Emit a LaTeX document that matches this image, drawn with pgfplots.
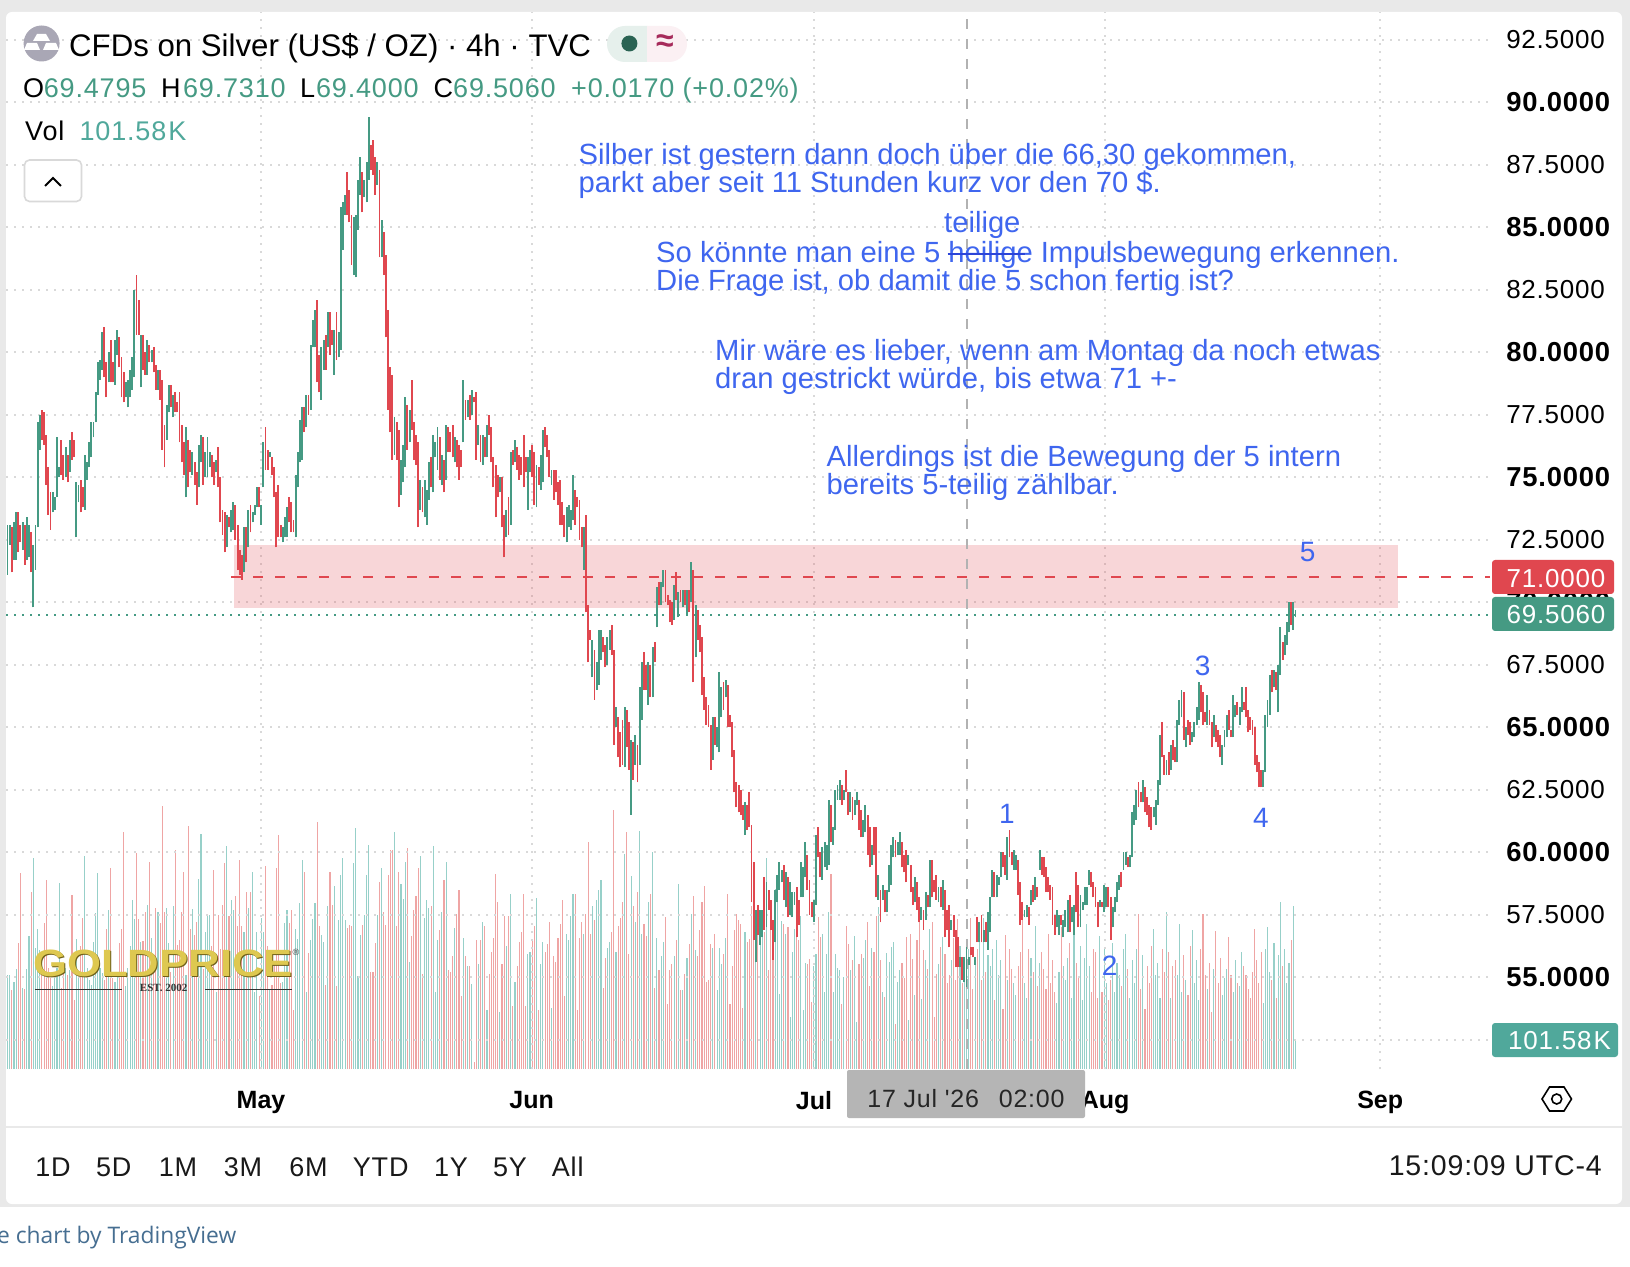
\documentclass[border=0pt]{standalone}
\usepackage{fontspec}
\usepackage{pgfplots}
\usepackage{pgfplotstable}
\pgfplotsset{compat=1.18}
\setmainfont{Liberation Sans}
\newfontfamily\ls[LetterSpace=3]{Liberation Sans}
\newfontfamily\osans{Open Sans}
\newfontfamily\lserif{Liberation Serif}
\newcommand{\fs}[1]{\fontsize{#1bp}{#1bp}\selectfont}
\definecolor{cg}{HTML}{459A83}
\definecolor{cr}{HTML}{E0474F}
\definecolor{vg}{HTML}{97D0C9}
\definecolor{vr}{HTML}{EFA5A4}
\definecolor{gridc}{HTML}{D9D9D9}
\definecolor{bluet}{HTML}{3F66EF}
\definecolor{vlab}{HTML}{50A89B}
\definecolor{frame}{HTML}{E9E9E9}
\definecolor{coin}{HTML}{A9A7B5}
\definecolor{pillg}{HTML}{E6F0EC}
\definecolor{pillr}{HTML}{FBF0F3}
\definecolor{dotg}{HTML}{2A6353}
\definecolor{maroon}{HTML}{A62B5B}
\definecolor{strike}{HTML}{2B44D8}
\definecolor{goldd}{HTML}{6E5F19}
\definecolor{goldl}{HTML}{DEC850}
\definecolor{tvblue}{HTML}{466E91}
\pgfplotstableread{
l h d v
71.1 73.1 1 330
72.3 73.1 1 330
71.2 73.0 0 275
71.7 73.2 1 305
71.7 73.6 1 350
72.0 73.6 0 440
72.4 73.1 0 685
72.1 73.2 1 285
71.5 73.1 0 280
71.7 73.4 1 350
71.8 73.1 1 465
71.2 72.8 0 620
69.8 72.3 1 737
71.3 73.1 1 425
73.0 77.2 1 490
76.1 77.5 1 415
76.5 77.7 0 355
76.3 77.6 0 510
74.7 76.7 0 660
73.5 75.4 0 355
72.9 74.4 0 320
73.6 74.4 1 290
73.7 74.2 1 335
74.2 76.6 1 355
75.0 75.4 1 650
75.1 76.5 0 285
74.9 75.9 0 355
75.0 76.2 1 355
74.8 75.9 0 330
75.2 76.5 1 345
75.7 76.8 0 610
75.8 76.5 0 240
72.6 74.8 1 455
74.0 74.7 1 335
73.6 74.9 0 430
73.8 74.6 0 530
73.7 75.9 1 745
74.9 75.6 1 355
75.4 76.4 1 310
75.8 77.2 1 295
76.6 77.2 1 445
77.2 78.4 1 545
78.3 79.6 1 685
78.9 79.7 1 355
79.3 80.8 1 335
79.0 81.0 0 310
78.2 79.6 0 490
78.8 80.0 1 555
78.8 80.5 0 705
78.8 79.6 0 320
78.7 80.5 1 305
79.9 80.9 1 335
79.4 80.6 0 440
78.2 79.8 0 490
78.0 79.2 0 830
78.2 78.8 1 290
77.8 78.9 1 355
78.2 79.3 1 430
78.5 79.8 1 590
79.0 82.5 1 525
80.7 83.1 0 755
80.7 82.1 0 525
78.6 80.7 1 445
79.3 80.7 0 447
79.1 80.0 0 548
79.1 80.5 1 575
79.6 80.3 0 723
79.6 80.1 1 460
79.2 80.2 0 335
78.5 79.5 0 565
78.5 79.3 1 550
78.1 79.3 0 510
76.1 78.9 0 919
75.4 77.1 0 548
76.5 77.9 1 565
77.6 78.7 1 440
77.8 78.7 0 340
77.4 78.3 1 570
77.6 78.4 0 768
77.6 78.0 0 435
76.4 78.4 0 450
75.6 77.1 0 550
75.1 76.4 0 690
74.2 77.0 1 330
74.6 76.5 0 849
75.2 76.1 0 490
75.1 76.0 1 560
74.7 75.6 0 470
73.9 75.2 0 515
74.6 76.3 1 665
75.6 76.7 1 821
74.7 76.6 0 350
75.0 76.0 1 480
75.0 76.6 1 540
75.4 76.0 1 540
75.0 75.9 0 430
74.7 75.6 0 698
75.2 75.7 1 270
74.6 76.2 0 540
73.2 75.0 0 420
72.7 73.7 0 575
72.0 73.6 0 720
72.2 73.5 1 782
73.0 73.4 0 535
72.8 73.7 1 590
72.9 74.0 1 555
72.5 73.9 0 605
71.3 73.1 0 500
71.1 72.1 0 730
70.9 71.9 0 500
71.2 73.0 1 480
71.6 73.0 0 620
72.2 73.7 1 565
72.8 73.9 0 620
73.2 73.6 1 688
73.5 73.9 1 270
73.8 74.6 1 480
73.8 74.6 0 255
73.1 73.9 1 530
74.6 76.4 1 480
75.3 77.0 0 712
75.3 76.1 0 430
75.8 76.0 1 280
75.1 75.8 0 295
74.2 75.4 0 370
72.2 74.4 0 705
72.6 74.7 0 818
72.6 73.1 0 300
72.4 73.0 1 305
72.6 73.4 1 510
72.6 73.8 1 555
73.2 74.2 0 510
72.8 74.0 0 555
72.8 73.3 0 205
72.6 75.1 1 490
74.6 76.0 1 455
75.6 77.3 1 580
75.7 77.8 1 730
76.8 77.8 0 690
77.0 78.3 1 270
77.5 78.3 0 405
77.7 80.3 1 450
80.2 81.3 1 525
80.2 81.7 1 580
78.8 82.1 0 863
78.4 79.9 0 500
78.1 80.2 1 470
79.3 80.5 1 445
79.3 80.7 0 295
80.2 81.6 1 570
79.9 81.6 0 688
80.3 80.9 0 575
79.1 80.9 1 640
79.7 81.6 0 290
79.8 80.8 1 520
80.1 85.8 1 678
84.1 86.0 1 740
85.5 86.3 1 520
85.5 87.2 0 495
85.2 86.5 0 505
83.5 85.5 0 500
83.1 85.4 1 722
83.0 85.5 1 845
84.9 86.9 1 325
86.3 87.8 1 470
85.6 87.2 0 505
86.2 86.9 1 540
86.0 87.6 1 678
86.9 89.4 1 783
87.3 88.3 0 340
87.1 88.5 0 340
86.3 87.8 0 440
86.7 87.6 1 540
83.8 87.3 0 655
83.8 85.3 1 705
83.1 84.8 0 550
80.6 83.9 0 505
77.7 81.7 0 680
76.8 79.4 0 765
75.7 79.1 0 765
75.9 77.4 1 828
75.7 77.2 0 500
73.8 76.9 0 690
74.3 75.7 1 646
74.8 76.3 1 595
75.4 78.2 1 726
76.1 77.9 0 775
76.4 77.7 1 376
76.9 78.9 0 467
75.7 77.2 0 558
75.5 76.7 0 607
73.0 76.4 0 702
73.7 74.9 1 744
73.6 74.6 0 331
73.4 74.9 1 527
73.1 74.5 1 590
74.1 75.6 1 565
74.6 75.8 0 572
74.4 76.7 1 779
75.8 76.4 1 271
75.3 77.0 1 450
74.9 76.6 0 485
74.7 75.9 1 551
74.4 75.7 0 663
74.9 77.1 1 723
76.0 77.0 0 345
76.0 76.8 0 341
75.8 77.1 0 397
75.6 76.6 1 492
75.4 76.5 0 544
74.9 76.3 0 628
75.4 76.1 0 257
76.4 78.9 1 457
77.3 78.1 0 394
77.4 78.1 1 362
77.3 78.3 0 362
77.5 78.5 1 296
78.0 78.2 0 26
75.7 78.4 0 453
76.3 77.1 1 366
75.6 76.7 0 450
75.5 76.7 1 513
75.8 76.6 0 502
75.8 77.1 1 208
76.7 77.5 0 331
75.6 77.0 0 408
74.6 75.8 0 457
73.4 75.5 0 681
74.2 75.1 0 583
74.4 75.0 1 201
73.0 75.0 0 369
71.8 73.5 0 534
72.6 73.7 1 429
72.7 74.2 0 534
73.1 76.0 1 611
75.5 76.1 0 222
75.6 76.5 1 303
75.3 76.2 0 362
74.9 75.9 0 446
75.1 75.8 0 478
74.6 76.7 0 614
75.2 75.8 0 219
73.7 75.8 1 401
75.2 76.1 1 408
75.0 76.3 0 450
73.9 76.0 0 499
73.8 75.5 1 600
74.7 75.4 0 208
74.5 75.9 1 369
74.8 76.9 1 446
76.2 77.0 0 411
75.8 76.7 0 439
75.0 76.1 0 516
74.7 75.3 1 212
74.1 75.3 0 394
74.4 75.3 0 373
73.9 74.8 0 460
73.1 74.9 0 506
73.1 74.0 0 590
72.6 73.5 0 254
72.4 73.8 1 474
73.0 73.9 1 453
72.9 73.7 1 534
73.3 75.1 1 614
73.1 74.5 0 614
73.8 74.2 0 208
72.5 74.1 0 457
72.2 73.0 0 516
71.3 73.0 1 474
69.6 73.5 0 544
67.6 69.9 0 796
68.5 68.9 0 471
67.0 68.5 1 572
66.1 68.1 0 523
66.5 67.6 1 593
66.7 68.9 1 625
67.7 68.9 1 663
68.0 68.6 0 282
67.4 68.3 0 387
67.5 68.6 1 425
68.1 68.9 1 443
67.9 69.1 0 481
64.3 68.1 0 908
65.0 65.8 1 411
63.8 65.4 0 499
63.4 64.8 0 530
63.5 65.3 0 586
63.4 65.8 1 751
64.2 65.7 0 828
63.3 65.2 0 401
61.5 64.5 1 677
62.9 64.4 0 572
63.5 64.7 1 516
62.8 64.3 0 618
63.5 66.6 1 832
65.3 67.6 1 471
66.5 68.0 0 509
66.5 67.5 0 467
65.9 67.6 1 583
66.2 67.5 0 614
66.2 68.2 1 761
67.6 68.4 0 282
69.0 70.6 1 457
69.9 70.8 0 345
69.9 70.8 1 397
70.6 71.3 1 443
70.0 71.3 0 532
69.9 70.3 0 226
69.2 70.1 0 345
69.1 70.0 0 366
69.3 70.7 1 394
70.1 71.2 0 453
69.4 70.4 1 649
70.0 70.5 0 278
69.8 70.5 1 278
69.9 70.5 0 331
69.5 70.5 1 390
69.6 70.5 0 439
70.0 71.6 1 541
66.8 71.3 0 607
67.8 69.9 1 415
68.5 69.7 0 397
68.0 69.1 0 488
66.3 68.6 0 586
65.7 67.0 0 642
65.1 66.2 0 306
65.0 65.9 0 313
63.3 65.1 0 439
63.7 65.4 1 425
64.3 65.4 0 471
64.2 65.0 1 275
64.0 67.2 1 425
65.4 66.6 1 369
65.7 66.8 0 404
66.2 66.9 1 457
65.0 66.7 0 614
65.0 65.5 0 229
63.8 65.2 0 359
62.4 64.1 0 485
61.8 62.8 0 541
61.6 62.7 0 523
61.5 62.5 0 509
61.3 61.9 0 215
60.7 62.0 1 478
60.9 61.9 0 446
61.0 62.4 0 456
58.0 61.1 0 572
56.5 59.6 0 532
55.6 57.7 1 555
56.7 57.9 0 508
56.3 57.7 1 450
56.6 57.7 1 479
56.9 59.0 0 479
57.0 58.8 1 740
57.7 58.5 0 347
56.9 58.1 0 555
55.7 57.3 0 473
56.4 58.5 1 630
58.0 59.1 1 613
58.5 59.6 1 263
58.8 59.3 1 517
58.1 59.5 0 506
57.8 59.2 1 471
57.4 59.0 0 497
57.5 58.8 1 181
57.4 58.4 1 411
57.9 58.4 1 491
56.6 58.6 0 511
57.1 58.1 0 453
58.2 59.6 1 535
58.2 59.4 1 205
59.0 60.4 1 370
58.5 59.9 0 366
57.5 58.9 0 385
57.4 58.0 0 236
57.2 58.1 1 362
57.9 60.7 1 401
59.8 61.0 0 532
59.0 60.0 0 462
58.9 60.2 1 473
59.4 60.4 1 271
59.3 60.3 1 403
59.5 62.1 1 551
60.4 61.9 0 681
60.3 61.0 1 271
60.9 62.5 1 403
62.1 62.7 1 354
62.1 62.9 1 345
61.9 62.7 0 226
62.1 62.5 1 322
62.4 63.3 0 499
61.5 62.4 0 436
61.6 62.4 1 345
61.3 62.2 0 380
61.5 62.1 1 464
61.9 62.4 1 164
60.9 62.1 0 366
60.6 61.7 0 403
60.6 61.3 1 388
60.8 61.9 1 452
59.9 61.5 0 514
59.4 61.0 0 292
59.5 60.3 1 424
59.9 61.0 0 409
58.2 61.0 0 534
58.1 59.1 1 567
57.2 58.5 0 380
58.1 58.7 1 269
57.6 58.5 0 251
57.6 58.5 1 407
58.4 59.5 1 374
58.7 60.3 1 427
59.8 60.6 1 444
59.8 60.5 0 158
59.9 60.4 1 304
59.9 60.8 1 345
59.4 60.4 0 372
59.2 59.9 0 320
58.8 60.1 0 462
59.5 59.9 1 170
58.4 59.5 0 473
57.9 58.6 0 386
58.0 59.0 1 260
57.7 58.8 0 450
57.2 58.2 0 520
57.3 57.8 1 246
56.9 57.7 0 415
57.3 58.4 1 380
57.8 58.3 0 351
57.8 59.7 1 491
58.2 59.7 0 514
58.4 58.9 0 182
58.1 59.1 0 333
58.0 58.6 1 368
57.8 58.6 0 427
57.7 58.9 1 462
56.6 58.5 0 403
56.9 57.7 0 300
56.2 57.9 0 330
56.9 57.3 1 380
56.6 57.5 0 460
55.4 56.9 0 310
55.4 56.6 0 526
55.4 55.8 1 430
54.9 55.8 0 300
54.8 55.8 1 370
54.6 56.2 1 330
55.5 55.8 1 420
55.9 56.2 0 530
55.8 56.2 0 280
55.5 55.8 1 390
56.4 57.4 0 420
56.4 57.2 1 450
56.4 57.5 0 310
56.4 56.9 1 530
56.4 57.2 0 340
56.1 57.6 1 400
56.8 58.2 1 360
58.2 59.3 1 420
58.2 59.2 0 240
58.2 59.1 1 450
58.7 59.0 1 330
59.0 60.0 1 380
59.4 60.0 0 210
59.1 59.9 0 470
58.9 60.6 1 310
59.8 60.9 0 420
59.5 60.0 0 350
59.3 60.1 1 300
59.3 59.9 1 260
58.3 59.7 0 360
57.1 58.8 0 410
57.3 58.0 0 537
57.4 57.7 1 300
57.4 57.9 1 250
57.1 57.8 0 420
57.9 58.5 1 390
58.0 58.7 0 340
58.1 59.0 1 502
58.2 58.6 0 290
59.3 60.1 1 370
59.1 59.8 0 410
59.0 59.8 0 350
58.4 59.4 0 280
58.4 59.0 0 473
58.1 58.7 0 300
57.1 58.6 0 380
56.7 57.5 0 270
57.0 57.7 1 230
56.7 57.5 1 340
57.1 57.5 0 497
56.6 57.3 1 360
57.0 57.7 1 310
56.8 58.1 1 390
56.8 58.3 0 440
57.2 57.8 1 250
56.7 57.9 1 502
57.6 59.2 0 370
57.0 58.7 0 320
57.0 58.3 1 430
57.7 58.0 1 240
57.9 58.6 1 390
57.9 58.6 1 506
58.7 59.3 1 360
58.6 59.2 0 270
58.2 58.8 0 420
57.8 58.6 0 410
57.0 58.0 0 250
57.8 58.1 1 467
57.8 58.0 0 270
57.6 58.7 1 420
57.8 58.6 1 300
57.8 58.6 0 240
56.5 58.2 0 310
57.0 57.8 1 440
57.6 58.2 1 270
58.0 58.8 1 370
58.5 59.1 1 330
58.6 59.2 0 290
59.3 60.0 1 420
59.5 60.0 1 473
59.4 59.8 0 350
59.4 59.9 1 250
59.8 61.6 1 380
61.1 61.9 1 300
61.3 62.5 1 420
61.8 62.8 0 541
62.0 62.4 0 280
62.0 62.9 1 400
61.6 62.6 0 210
61.5 62.2 0 360
61.0 61.9 0 300
60.9 61.8 0 430
61.4 61.8 1 491
61.1 62.1 1 330
61.9 62.9 1 370
62.7 64.7 1 250
63.8 65.2 0 420
63.1 63.9 0 340
63.1 63.7 1 551
63.1 64.0 0 410
63.3 64.3 1 250
63.7 64.5 0 360
63.6 64.2 0 380
63.6 65.3 1 330
65.1 66.1 1 506
65.4 66.5 1 270
64.5 66.4 0 400
64.2 65.0 1 310
64.7 65.3 0 260
64.3 65.2 0 430
64.4 64.8 1 488
64.6 65.2 1 300
65.1 65.8 1 380
65.3 66.8 1 240
65.6 66.7 0 420
65.1 66.4 0 543
65.2 65.6 0 330
65.1 66.3 1 280
65.1 65.7 0 370
64.2 65.2 0 200
64.6 65.5 1 350
64.4 65.1 0 483
64.2 64.9 0 300
63.8 64.7 0 390
63.5 64.3 1 260
64.2 64.9 1 320
64.6 65.5 1 350
64.9 65.7 0 462
64.6 64.9 0 330
64.6 66.3 1 270
65.4 65.9 1 380
65.5 66.0 0 300
65.1 65.8 1 290
65.6 66.6 1 411
65.7 66.0 0 360
65.4 66.6 0 330
64.8 65.7 0 280
64.9 65.4 0 250
64.7 65.3 0 340
63.5 65.0 0 491
63.2 63.9 0 380
62.6 63.6 0 300
62.6 63.3 0 410
62.6 63.3 1 230
63.2 65.5 1 420
65.0 66.1 1 497
65.5 67.1 1 340
66.4 67.3 0 310
66.6 67.3 1 440
66.5 67.2 0 250
65.6 67.5 1 400
67.1 69.0 1 583
67.7 68.4 0 360
67.9 68.7 1 420
68.3 69.2 1 300
68.8 70.0 1 370
69.1 70.0 0 450
68.9 70.0 1 572
69.4 69.7 1 102
}\data
\begin{document}
\begin{tikzpicture}[x=1bp,y=1bp]
\clip (0,0) rectangle (1630,1266);
\fill[white] (0,0) rectangle (1630,1266);
\fill[frame] (0,59.5) rectangle (1630,1266);
\fill[white,rounded corners=6bp] (6,62) rectangle (1622,1254);
\draw[color=frame,line width=2.5bp] (6,139) -- (1622,139);
% volume
\begin{axis}[at={(6bp,197bp)},anchor=south west,scale only axis,width=1484bp,height=1057bp,
  xmin=-0.7,xmax=689.5,ymin=0,ymax=3699.5,hide axis,clip=true]
\addplot[ycomb,color=vg,line width=1.1bp,mark=none,forget plot] table[x expr=\coordindex,y expr={\thisrow{d}>0 ? \thisrow{v} : nan}]{\data};
\addplot[ycomb,color=vr,line width=1.1bp,mark=none,forget plot] table[x expr=\coordindex,y expr={\thisrow{d}>0 ? nan : \thisrow{v}}]{\data};
\end{axis}
% price
\begin{axis}[at={(6bp,197bp)},anchor=south west,scale only axis,width=1484bp,height=1057bp,
  xmin=-0.7,xmax=689.5,ymin=51.33,ymax=93.61,clip=true,
  axis line style={draw=none},every tick/.style={draw=none},major tick length=0pt,
  grid=major,grid style={draw=gridc,line width=2bp,dash pattern=on 2bp off 6bp},
  ytick={52.5,55,57.5,60,62.5,65,67.5,70,72.5,75,77.5,80,82.5,85,87.5,90,92.5},
  yticklabels={{},\bfseries\fs{27.4}55.0000,57.5000,\bfseries\fs{27.4}60.0000,62.5000,\bfseries\fs{27.4}65.0000,67.5000,\bfseries\fs{27.4}70.0000,72.5000,\bfseries\fs{27.4}75.0000,77.5000,\bfseries\fs{27.4}80.0000,82.5000,\bfseries\fs{27.4}85.0000,87.5000,\bfseries\fs{27.4}90.0000,92.5000},
  yticklabel pos=right,
  yticklabel style={anchor=west,inner sep=0pt,xshift=16bp,font=\ls\fs{26}},
  xtick={117.9,243.8,375.1,510.5,638.4},
  xticklabels={May,Jun,Jul,Aug,Sep},
  xticklabel style={font=\bfseries\fs{25},yshift=-19bp,text depth=0pt},
]
\fill[cr,fill opacity=.22] (axis cs:105.3,72.29) rectangle (axis cs:646.7,69.77);
\addplot[color=black!30,line width=2bp,dash pattern=on 10bp off 10bp,forget plot] coordinates {(446.2,51.33)(446.2,93.6)};
\addplot[color=cg,line width=2bp,dash pattern=on 2bp off 6bp,forget plot] coordinates {(-0.7,69.506)(689.5,69.506)};
\addplot[draw=none,mark=none,forget plot,error bars/.cd,y dir=plus,y explicit,error mark=none,error bar style={line width=1.9bp,draw=cg,solid}]
 table[x expr=\coordindex,y expr={\thisrow{d}>0 ? \thisrow{l} : nan},y error plus expr={\thisrow{h}-\thisrow{l}}]{\data};
\addplot[draw=none,mark=none,forget plot,error bars/.cd,y dir=plus,y explicit,error mark=none,error bar style={line width=1.9bp,draw=cr,solid}]
 table[x expr=\coordindex,y expr={\thisrow{d}>0 ? nan : \thisrow{l}},y error plus expr={\thisrow{h}-\thisrow{l}}]{\data};
\addplot[color=cr,line width=2bp,dash pattern=on 10bp off 12bp,forget plot] coordinates {(104,71)(689.5,71)};
\end{axis}
% right labels
\fill[cr,rounded corners=3bp] (1492,1266-594) rectangle (1614,1266-560);
\node[white,font=\ls\fs{26},anchor=west,inner sep=0pt] at (1506.5,1266-579) {71.0000};
\fill[cg,rounded corners=3bp] (1492,1266-631) rectangle (1614,1266-597);
\node[white,font=\ls\fs{26},anchor=west,inner sep=0pt] at (1506.5,1266-615) {69.5060};
\fill[vlab,rounded corners=3bp] (1492,1266-1057) rectangle (1618,1266-1023);
\node[white,font=\ls\fs{26},anchor=west,inner sep=0pt] at (1508,1266-1041) {101.58\kern2bp K};
% crosshair date
\fill[black!29,rounded corners=2bp] (847,1266-1118) rectangle (1085,1266-1070);
\node[black!85,font=\ls\fs{25},anchor=center,inner sep=0pt] at (966,1266-1099) {17 Jul '26\hspace{0.8em}02:00};
% settings icon
\draw[black,line width=1.6bp] (1542,1266-1099)--(1549.5,1266-1087)--(1564,1266-1087)--(1571.5,1266-1099)--(1564,1266-1111)--(1549.5,1266-1111)--cycle;
\draw[black,line width=1.6bp] (1556.7,1266-1099) circle (5);
% header
\fill[coin] (41.6,1266-43.5) circle (18);
\fill[white] (33,1266-41)--(50,1266-41)--(46,1266-34)--(37,1266-34)--cycle;
\fill[white] (24,1266-50)--(40,1266-50)--(37,1266-43)--(27,1266-43)--cycle;
\fill[white] (43,1266-50)--(59,1266-50)--(56,1266-43)--(46,1266-43)--cycle;
\node[black,font=\fs{31.2},anchor=west,inner sep=0pt] at (69,1266-48) {CFDs on Silver (US\$ / OZ) · 4h · TVC};
\fill[pillg] (625,1266-26) arc (90:270:18) -- (647,1266-62) -- (647,1266-26) -- cycle;
\fill[pillr] (669,1266-26) arc (90:-90:18) -- (647,1266-62) -- (647,1266-26) -- cycle;
\fill[dotg] (629.4,1266-43.5) circle (8);
\node[color=maroon,font=\bfseries\fs{32},inner sep=0pt] at (665,1266-43) {≈};
% OHLC
\begin{scope}[every node/.style={anchor=base west,inner sep=0pt,font=\ls\fs{27}}]
\node[black] at (23,1266-97.7) {O};
\node[cg] at (43.7,1266-97.7) {69.4795};
\node[black] at (161,1266-97.7) {H};
\node[cg] at (183,1266-97.7) {69.7310};
\node[black] at (300,1266-97.7) {L};
\node[cg] at (316,1266-97.7) {69.4000};
\node[black] at (433.5,1266-97.7) {C};
\node[cg] at (453,1266-97.7) {69.5060};
\node[cg] at (571,1266-97.7) {+0.0170 (+0.02\%)};
\node[black] at (25,1266-140.5) {Vol};
\node[vlab] at (79.5,1266-140.5) {101.58\kern2bp K};
\end{scope}
\draw[black!15,fill=white,line width=1.6bp,rounded corners=5bp] (24.5,1266-201.5) rectangle (81.5,1266-160);
\draw[black,line width=2bp] (45,1266-186)--(53,1266-178)--(61,1266-186);
% annotations
\begin{scope}[every node/.style={anchor=west,inner sep=0pt,color=bluet,font=\fs{29.2}}]
\node at (578.5,1266-157) {Silber ist gestern dann doch über die 66,30 gekommen,};
\node at (578.5,1266-185) {parkt aber seit 11 Stunden kurz vor den 70 \$.};
\node at (944,1266-225) {teilige};
\node at (656,1266-255) {So könnte man eine 5 heilige Impulsbewegung erkennen.};
\node at (656,1266-283) {Die Frage ist, ob damit die 5 schon fertig ist?};
\node at (715,1266-353) {Mir wäre es lieber, wenn am Montag da noch etwas};
\node at (715,1266-381) {dran gestrickt würde, bis etwa 71 +-};
\node at (826.4,1266-459) {Allerdings ist die Bewegung der 5 intern};
\node at (826.4,1266-487) {bereits 5-teilig zählbar.};
\end{scope}
\draw[strike,line width=2bp] (947.5,1266-254)--(1024.5,1266-254);
\begin{scope}[every node/.style={inner sep=0pt,color=bluet,font=\fs{28}}]
\node at (1007,1266-813.6) {1};
\node at (1109.7,1266-965.4) {2};
\node at (1202.7,1266-666) {3};
\node at (1261,1266-818) {4};
\node at (1307.7,1266-552) {5};
\end{scope}
% logo
\node[color=goldd,font=\bfseries\fs{38},inner sep=0pt,xscale=1.15] at (164,1266-964) {GOLDPRICE};
\node[color=goldl,font=\bfseries\fs{38},inner sep=0pt,xscale=1.15] at (163,1266-963) {GOLDPRICE};
\node[black!75,font=\fs{9},inner sep=0pt] at (296,1266-952) {®};
\node[black!80,font=\lserif\bfseries\fs{11},inner sep=0pt] at (163.7,1266-988) {EST. 2002};
\draw[black!80,line width=1bp] (34.5,1266-989)--(122,1266-989) (205,1266-989)--(292,1266-989);
% range bar
\begin{scope}[every node/.style={inner sep=0pt,color=black!90,font=\ls\fs{27}}]
\node at (53,1266-1167) {1D};
\node at (113.7,1266-1167) {5D};
\node at (178,1266-1167) {1M};
\node at (243,1266-1167) {3M};
\node at (308.5,1266-1167) {6M};
\node at (380.7,1266-1167) {YTD};
\node at (451,1266-1167) {1Y};
\node at (510,1266-1167) {5Y};
\node at (567.7,1266-1167) {All};
\node[anchor=east,font=\ls\fs{28.5}] at (1602,1266-1166) {15:09:09 UTC-4};
\end{scope}
\node[anchor=west,inner sep=0pt,color=tvblue,font=\osans\fs{22.8}] at (-3,1266-1238) {e chart by TradingView};
\end{tikzpicture}
\end{document}
